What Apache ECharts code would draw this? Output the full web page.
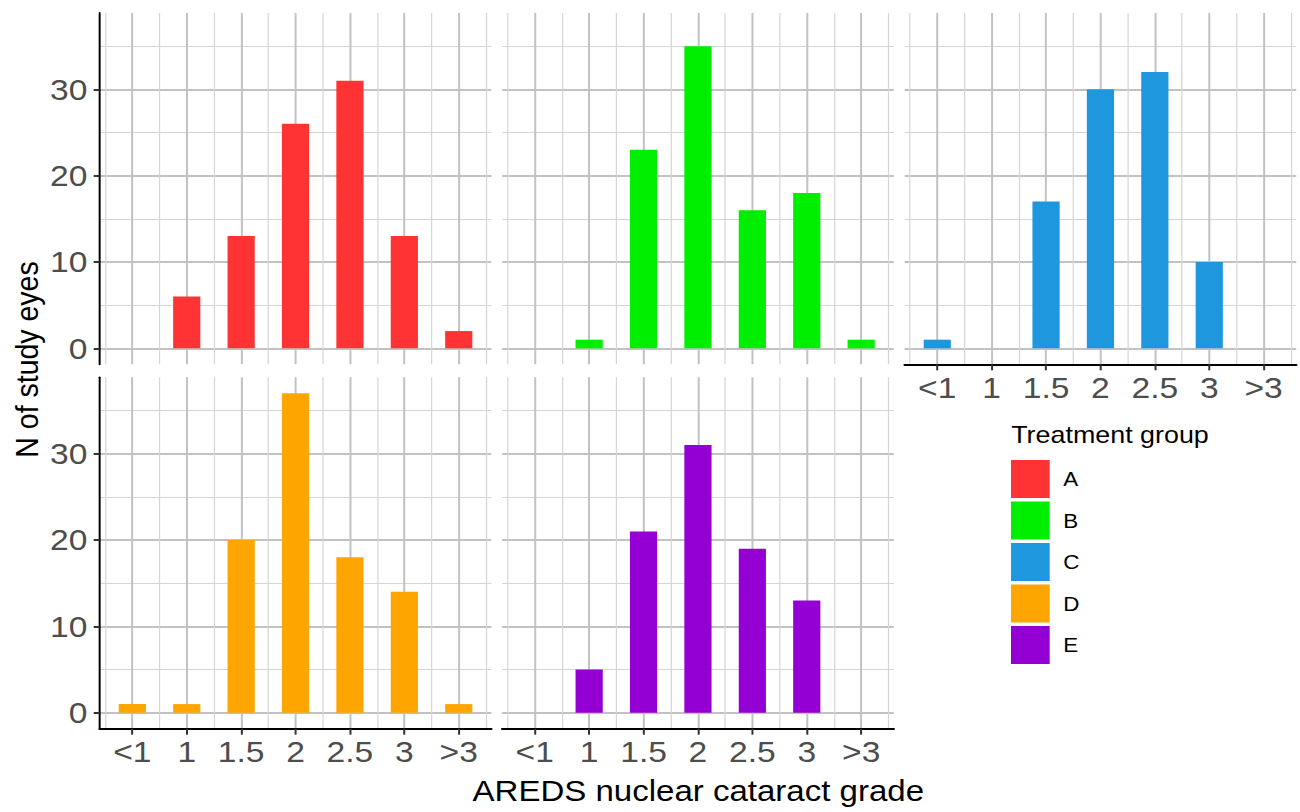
<!DOCTYPE html>
<html><head><meta charset="utf-8">
<script src="https://cdn.jsdelivr.net/npm/echarts@6/dist/echarts.min.js"></script>
<style>
html,body{margin:0;padding:0;background:#fff;overflow:hidden}
#wrap{width:1300px;height:812px;overflow:hidden}
#c{width:1161px;height:812px;transform:scaleX(1.11972);transform-origin:0 0}
</style>
</head><body><div id="wrap"><div id="c"></div></div>
<script>
// ---------------- data ----------------
const categories = ['<1', '1', '1.5', '2', '2.5', '3', '>3'];
const groupNames = ['A', 'B', 'C', 'D', 'E'];
const groupA = [0, 6, 13, 26, 31, 13, 2];
const groupB = [0, 1, 23, 35, 16, 18, 1];
const groupC = [1, 0, 17, 30, 32, 10, 0];
const groupD = [1, 1, 20, 37, 18, 14, 1];
const groupE = [0, 5, 21, 31, 19, 13, 0];
const groupColors = ['#FF3333', '#00EE00', '#1F97DF', '#FFA500', '#9400D3'];
const yMajorTicks = [0, 10, 20, 30];
const yMinorTicks = [5, 15, 25, 35];
const xMinorTicks = [0.5, 1.5, 2.5, 3.5, 4.5, 5.5, 6.5, 7.5];
const yTitle = 'N of study eyes';
const xTitle = 'AREDS nuclear cataract grade';
const legendTitle = 'Treatment group';

// ---------------- layout ----------------
const S = 1300 / 1161;           // horizontal stretch of the reference
const X = v => v / S;            // actual px -> logical px
const FONT = '"Liberation Sans", Arial, Helvetica, sans-serif';
const colLefts = [99.7, 502.1, 904.6];
const rowTops = [12.9, 377.3];
const PW = 391.7, PH = 351.4;
const panels = [
  {col: 0, row: 0, yShow: true,  xShow: false},
  {col: 1, row: 0, yShow: false, xShow: false},
  {col: 2, row: 0, yShow: false, xShow: true},
  {col: 0, row: 1, yShow: true,  xShow: true},
  {col: 1, row: 1, yShow: false, xShow: true}
];
const groupValues = [groupA, groupB, groupC, groupD, groupE];
const catPos = categories.map((c, i) => i + 1);

const majorGrid = '#c2c2c2', minorGrid = '#d5d5d5';
const grid = [], xAxis = [], yAxis = [], series = [];
panels.forEach((p, i) => {
  grid.push({left: X(colLefts[p.col]), top: rowTops[p.row], width: X(PW), height: PH, containLabel: false});
  xAxis.push({
    gridIndex: i, type: 'value', min: 0.4, max: 7.6, position: 'bottom',
    axisLine: {show: p.xShow, onZero: false, lineStyle: {color: '#000', width: 2.2}},
    axisTick: {show: p.xShow, customValues: catPos, length: 6, lineStyle: {color: '#333', width: X(2)}},
    axisLabel: {show: p.xShow, customValues: catPos, formatter: v => categories[Math.round(v) - 1],
      fontSize: 30, lineHeight: 30, color: '#4d4d4d', fontFamily: FONT, margin: 8},
    splitLine: {show: true, lineStyle: {color: majorGrid, width: X(2)}}
  });
  xAxis.push({
    gridIndex: i, type: 'value', min: 0.4, max: 7.6, position: 'top',
    axisLine: {show: false}, axisTick: {show: false, customValues: xMinorTicks},
    axisLabel: {show: false, customValues: xMinorTicks},
    splitLine: {show: true, lineStyle: {color: minorGrid, width: X(1.2)}}
  });
  yAxis.push({
    gridIndex: i, type: 'value', min: -1.85, max: 38.85, position: 'left',
    axisLine: {show: p.yShow, onZero: false, lineStyle: {color: '#000', width: X(2)}},
    axisTick: {show: p.yShow, customValues: yMajorTicks, length: X(6), lineStyle: {color: '#333', width: 2}},
    axisLabel: {show: p.yShow, customValues: yMajorTicks, fontSize: 30, color: '#4d4d4d', fontFamily: FONT, margin: 11},
    splitLine: {show: true, lineStyle: {color: majorGrid, width: 2}}
  });
  yAxis.push({
    gridIndex: i, type: 'value', min: -1.85, max: 38.85, position: 'right',
    axisLine: {show: false}, axisTick: {show: false, customValues: yMinorTicks},
    axisLabel: {show: false, customValues: yMinorTicks},
    splitLine: {show: true, lineStyle: {color: minorGrid, width: 1.2}}
  });
  series.push({
    type: 'bar', name: groupNames[i], xAxisIndex: 2 * i, yAxisIndex: 2 * i,
    data: groupValues[i].map((v, j) => [catPos[j], v]),
    barWidth: X(27.2), itemStyle: {color: groupColors[i]}, silent: true, animation: false
  });
});

const chart = echarts.init(document.getElementById('c'), null, {renderer: 'svg'});
chart.setOption({
  animation: false,
  grid, xAxis, yAxis, series,
  legend: {
    orient: 'vertical', left: X(1011), top: 460, padding: 0,
    itemWidth: X(38.7), itemHeight: 38, itemGap: 3.5, icon: 'rect',
    selectedMode: false, data: groupNames,
    textStyle: {fontSize: 20, color: '#000', fontFamily: FONT, padding: [0, 0, 0, X(8)]}
  },
  graphic: [
    {type: 'text', x: X(27), y: 359.5, rotation: Math.PI / 2,
      style: {text: yTitle, fontSize: 28.5, fill: '#000', fontFamily: FONT, align: 'center', verticalAlign: 'middle'}},
    {type: 'text', x: X(698.3), y: 791.5,
      style: {text: xTitle, fontSize: 29.5, fill: '#000', fontFamily: FONT, align: 'center', verticalAlign: 'middle'}},
    {type: 'text', x: X(1011.2), y: 435,
      style: {text: legendTitle, fontSize: 24, fill: '#000', fontFamily: FONT, align: 'left', verticalAlign: 'middle'}}
  ]
});
</script>
</body></html>
